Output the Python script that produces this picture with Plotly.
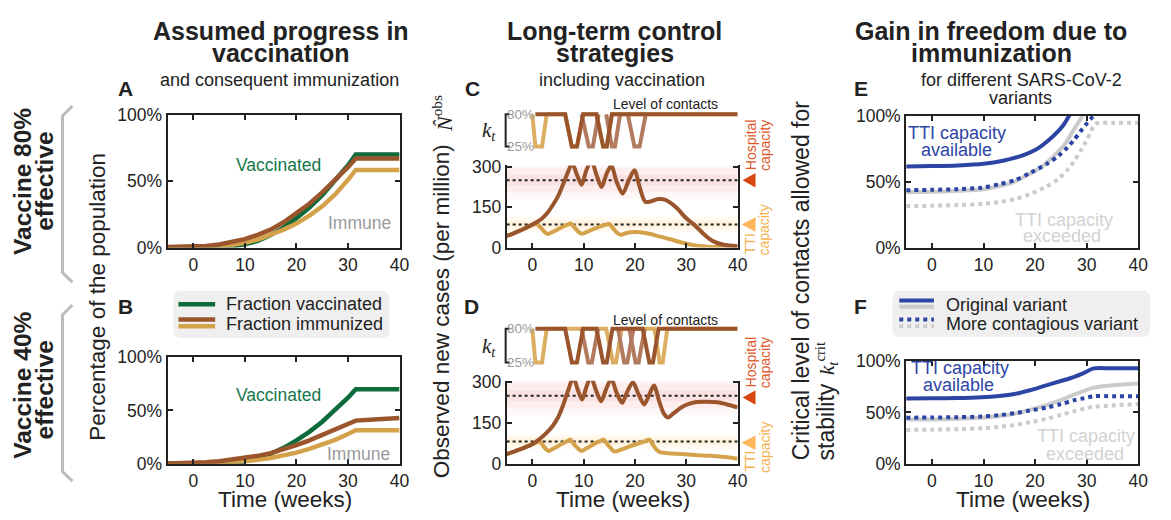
import plotly.graph_objects as go

W, H = 1171, 520
SANS = "Liberation Sans, Arial, Helvetica, sans-serif"
SERIF = "Liberation Serif, DejaVu Serif, serif"

# ---------------- data ----------------
weeks_AB = [-5, 0, 2.5, 5, 7.5, 10, 12.5, 15, 17.5, 20, 22.5, 25, 27.5, 30, 31.5, 35, 40]
vaccinated = [0, 0, 0, 0.1, 0.8, 2.4, 5, 9.5, 15, 22, 30, 39.5, 50.5, 62, 70, 70, 70]
A_immunized = [0.3, 0.5, 1.2, 2.3, 4, 6.3, 9.5, 13.5, 19, 25.5, 33, 41.5, 50.5, 60.5, 67, 67, 67]
A_immune = [0, 0.2, 0.5, 1, 2, 3.5, 6, 9.5, 13.5, 18, 24, 31, 40, 51, 58.5, 58.5, 58.5]
B_immunized = [0.3, 0.8, 1.5, 2.5, 4, 5.5, 7.5, 10, 13.5, 17.5, 22, 27, 32, 37.5, 40.5, 41.5, 43]
B_immune = [0, 0.2, 0.5, 1, 1.6, 2.5, 3.8, 5.5, 7.8, 10.5, 14, 18, 22.5, 28, 31.5, 31.5, 31.5]

C_w = [-5, -4, -3, -2, -1, 0, 1, 2, 3, 4, 5, 6, 7, 7.8, 8.7, 9.6, 10.5, 11.5, 12.5, 13.5, 14.5, 15.4,
       16.4, 17.6, 18.8, 19.9, 20.9, 22.0, 23.2, 24.5, 25.8, 27, 28.3, 29.5, 30.5, 31.5, 32.5, 33.5,
       34.5, 35.5, 36.7, 38, 40]
C_hosp_cases = [43, 50, 58, 66, 75, 85, 96, 110, 130, 158, 190, 235, 283, 312, 270, 233, 285, 322, 270,
                225, 275, 305, 245, 200, 250, 287, 225, 170, 172, 180, 178, 165, 144, 118, 100, 85, 67,
                48, 32, 21, 13, 8, 5]
C_tw = [-5, -4, -3, -2, -1, 0, 0.8, 1.6, 2.4, 3.0, 4, 5, 6, 7, 7.5, 8.2, 9, 9.7, 10.5, 11.5, 12.5, 13.5,
        14.5, 15, 15.7, 16.5, 17.2, 18, 19, 20, 21, 22, 23, 24, 25, 26, 27, 28, 29, 30, 31, 32, 33, 34,
        36, 40]
C_tti_cases = [43, 50, 58, 66, 75, 83, 88, 75, 58, 50, 58, 68, 78, 86, 89, 75, 58, 51, 57, 65, 73, 80,
               86, 87, 72, 55, 47, 52, 57, 58, 57, 54, 50, 45, 40, 35, 30, 24, 19, 14, 10, 7, 5, 3, 2, 1]

D_w = [-5, -4, -3, -2, -1, 0, 1, 2, 3, 4, 5, 6, 7, 8, 8.8, 9.7, 10.5, 11.4, 12.4, 13.4, 14.4, 15.4,
       16.4, 17.5, 18.5, 19.6, 20.7, 21.8, 22.8, 23.7, 24.7, 25.6, 26.4, 27.5, 29, 30.5, 32, 34, 36, 38, 40]
D_hosp_cases = [36, 42, 49, 56, 64, 72, 85, 100, 118, 140, 170, 215, 270, 318, 275, 236, 280, 320, 270,
                230, 275, 312, 262, 224, 265, 300, 255, 218, 255, 288, 230, 185, 170, 185, 207, 220, 227,
                228, 226, 218, 207]
D_tw = [-5, -4, -3, -2, -1, 0, 1, 1.5, 2.3, 3.2, 4, 5, 6, 7, 7.4, 8.2, 9, 9.6, 10.5, 11.5, 12.5, 13.5,
        13.9, 14.7, 15.4, 16, 17, 18, 19, 20, 21, 22, 22.8, 23.5, 24.3, 25, 26, 28, 30, 32, 34, 36, 38, 40]
D_tti_cases = [36, 42, 49, 56, 64, 72, 80, 82, 62, 47, 55, 65, 76, 85, 89, 70, 55, 47, 56, 67, 78, 86,
               89, 70, 55, 45, 50, 57, 64, 71, 77, 83, 89, 70, 50, 42, 40, 37, 35, 32, 30, 28, 24, 19]

C_hosp_capacity, C_tti_capacity = 250, 85
D_hosp_capacity, D_tti_capacity = 250, 82

# level of contacts k_t (%)
C_kt_tti_w = [0.0, 0.6, 1.9, 2.8, 6.4, 7.7, 8.7, 9.9, 12.5, 13.8, 14.5, 15.5, 40]
C_kt_tti = [80, 25, 25, 80, 80, 25, 25, 80, 80, 25, 25, 80, 80]
C_kt_hosp_w = [0.6, 6.4, 7.7, 8.7, 9.9, 12.5, 13.8, 14.5, 15.5, 40]
C_kt_hosp = [80, 80, 25, 25, 80, 80, 25, 25, 80, 80]
C_kt_hosp2_w = [9.6, 11.0, 11.8, 12.9, None, 14.4, 15.5, 16.1, 17.1, None, 18.6, 19.9, 20.9, 22.1]
C_kt_hosp2 = [80, 25, 25, 80, None, 80, 25, 25, 80, None, 80, 25, 25, 80]

D_kt_tti_w = [0.0, 0.6, 1.9, 2.8, 14.4, 15.7, 16.3, 17.4, 23.8, 24.8, 25.4, 26.3, 40]
D_kt_tti = [80, 25, 25, 80, 80, 25, 25, 80, 80, 25, 25, 80, 80]
D_kt_hosp_w = [0.6, 6.4, 7.7, 8.7, 9.9, 12.5, 13.8, 14.5, 15.6, 21.5, 22.8, 23.5, 24.6, 40]
D_kt_hosp = [80, 80, 25, 25, 80, 80, 25, 25, 80, 80, 25, 25, 80, 80]
D_kt_hosp2_w = [9.6, 10.9, 11.6, 12.8, None, 16.7, 17.9, 18.5, 19.7, None, 18.9, 20.1, 20.7, 21.9]
D_kt_hosp2 = [80, 25, 25, 80, None, 80, 25, 25, 80, None, 80, 25, 25, 80]

# critical level of contacts (%)
E_orig_avail_w = [-5, 0, 5, 10, 14, 16, 18, 20, 21.2, 22.5, 24.4, 25.5, 26.6, 27.5]
E_orig_avail = [61.5, 61.8, 62.3, 63.5, 66, 68, 70.5, 74, 77, 81, 88, 93, 100, 106]
E_orig_exc_w = [-5, 0, 5, 9.6, 13, 16, 18.5, 21.2, 23.5, 25.7, 27.6, 29.2, 30]
E_orig_exc = [42, 42.3, 43, 44, 46.5, 50, 55, 61, 69, 78, 90, 100, 106]
E_cont_avail_w = [-5, 0, 5, 9.6, 13, 16, 19, 22.3, 24.5, 26.2, 27.5, 28.8, 29.8, 30.8, 31.8]
E_cont_avail = [43.5, 43.8, 44.3, 45.4, 48, 51, 56.5, 63.5, 69.5, 75.6, 81.5, 88, 93, 97.5, 103]
E_cont_exc_w = [-5, 0, 5, 9.6, 13, 16, 19, 22.3, 24.5, 26.2, 27.5, 28.8, 29.8, 30.8, 31.5, 32, 35, 40]
E_cont_exc = [31.4, 31.7, 32.2, 33, 34.5, 36.7, 40.5, 46.5, 52, 58.6, 65, 73.2, 80, 87.8, 93, 94.3, 94.6, 94.6]

F_w = [-5, 0, 5, 9.6, 13, 16, 19, 22.3, 25, 27.5, 29.5, 31.4, 35, 40]
F_orig_avail = [63.6, 63.7, 64, 64.8, 66, 67.9, 71.5, 76.6, 80.5, 84.4, 88.5, 92.8, 92.8, 92.8]
F_orig_exc = [43, 43.2, 43.8, 44.9, 46.5, 48.6, 52.5, 57.3, 62, 67.3, 71, 74.1, 76.5, 78.2]
F_cont_avail = [44.9, 45, 45.4, 46, 47.3, 49.2, 51.8, 54.8, 58, 61.7, 63.8, 65.7, 65.7, 65.7]
F_cont_exc = [33, 33.2, 33.7, 34.6, 36, 37.7, 40.5, 43.9, 47.5, 51.1, 53.5, 55.5, 56.8, 57.9]

x_ticks = [0, 10, 20, 30, 40]
pct_ticks = [0, 50, 100]
pct_labels = ["0%", "50%", "100%"]
case_ticks = [0, 150, 300]

# ---------------- colours ----------------
GREEN = "#0d6b3c"
BROWN = "#9a552d"
TAN = "#d5a24c"
MAUVE = "#b27b60"
BLUE = "#2c45a5"
GREY = "#cbcbcb"
AX = "#222222"


def dx(a, b):
    return [a / W, b / W]


def dy(top, bottom):
    return [1 - bottom / H, 1 - top / H]


fig = go.Figure()


def line(x, y, ax, color, width=4.5, dash="solid", shape="linear", opacity=1.0):
    fig.add_trace(go.Scatter(x=x, y=y, mode="lines", xaxis="x" + ax, yaxis="y" + ax,
                             line=dict(color=color, width=width, dash=dash, shape=shape,
                                       smoothing=0.8),
                             opacity=opacity, showlegend=False, hoverinfo="skip",
                             connectgaps=False))


# A / B
for ax, immun, immune in [("", A_immunized, A_immune), ("2", B_immunized, B_immune)]:
    line(weeks_AB, vaccinated, ax, GREEN)
    line(weeks_AB, immune, ax, TAN)
    line(weeks_AB, immun, ax, BROWN)

# C / D main + strips
for ax, sax, bw, bv, tw, tv, hc, tc, k1w, k1, k2w, k2, k3w, k3 in [
        ("3", "4", C_w, C_hosp_cases, C_tw, C_tti_cases, C_hosp_capacity, C_tti_capacity,
         C_kt_tti_w, C_kt_tti, C_kt_hosp2_w, C_kt_hosp2, C_kt_hosp_w, C_kt_hosp),
        ("5", "6", D_w, D_hosp_cases, D_tw, D_tti_cases, D_hosp_capacity, D_tti_capacity,
         D_kt_tti_w, D_kt_tti, D_kt_hosp2_w, D_kt_hosp2, D_kt_hosp_w, D_kt_hosp)]:
    line([-5, 40], [hc, hc], ax, AX, width=2, dash="dot")
    line([-5, 40], [tc, tc], ax, AX, width=2, dash="dot")
    line(tw, tv, ax, TAN, width=4, shape="spline")
    line(bw, bv, ax, BROWN, width=4, shape="spline")
    line(k1w, k1, sax, "#dcae62", width=4)
    line(k2w, k2, sax, MAUVE, width=4)
    line(k3w, k3, sax, BROWN, width=4)

# E / F
line(E_cont_exc_w, E_cont_exc, "7", GREY, width=4, dash="dot", shape="spline")
line(E_orig_exc_w, E_orig_exc, "7", GREY, width=4, shape="spline")
line(E_cont_avail_w, E_cont_avail, "7", BLUE, width=4, dash="dot", shape="spline")
line(E_orig_avail_w, E_orig_avail, "7", BLUE, width=4, shape="spline")
line(F_w, F_cont_exc, "8", GREY, width=4, dash="dot", shape="spline")
line(F_w, F_orig_exc, "8", GREY, width=4, shape="spline")
line(F_w, F_cont_avail, "8", BLUE, width=4, dash="dot", shape="spline")
line(F_w, F_orig_avail, "8", BLUE, width=4, shape="spline")

# ---------------- axes ----------------
tickfont = dict(size=17.5, color=AX, family=SANS)
box = dict(showline=True, linecolor=AX, linewidth=2, mirror="ticks", ticks="inside", ticklen=5,
           tickwidth=1.5, tickcolor=AX, showgrid=False, zeroline=False, tickfont=tickfont,
           fixedrange=True)
lay = {}


def xa(name, anchor, dom, **kw):
    d = dict(box)
    d.update(domain=dx(*dom), anchor=anchor, range=[-5, 40], tickvals=x_ticks)
    d.update(kw)
    lay[name] = d


def ya(name, anchor, dom, rng, **kw):
    d = dict(box)
    d.update(domain=dy(*dom), anchor=anchor, range=rng)
    d.update(kw)
    lay[name] = d


xa("xaxis", "y", (169, 403))
ya("yaxis", "x", (109, 247), [0, 100], tickvals=pct_ticks, ticktext=pct_labels)
xa("xaxis2", "y2", (169, 403))
ya("yaxis2", "x2", (361, 472), [0, 100], tickvals=pct_ticks, ticktext=pct_labels)

xa("xaxis3", "y3", (511, 744), mirror=False)
ya("yaxis3", "x3", (161.6, 247), [0, 305], tickvals=case_ticks)
xa("xaxis5", "y5", (511, 744), mirror=False)
ya("yaxis5", "x5", (385.6, 472), [0, 305], tickvals=case_ticks)

strip = dict(visible=False, fixedrange=True)
lay["xaxis4"] = dict(strip, domain=dx(511, 744), anchor="y4", range=[-5, 40])
lay["yaxis4"] = dict(strip, domain=dy(105.15, 145.35), anchor="x4", range=[19.5, 85.5])
lay["xaxis6"] = dict(strip, domain=dx(511, 744), anchor="y6", range=[-5, 40])
lay["yaxis6"] = dict(strip, domain=dy(328.0, 370.0), anchor="x6", range=[19.5, 85.5])

xa("xaxis7", "y7", (914, 1148))
ya("yaxis7", "x7", (110, 247), [0, 100], tickvals=pct_ticks, ticktext=pct_labels)
xa("xaxis8", "y8", (914, 1148))
ya("yaxis8", "x8", (365, 472), [0, 100], tickvals=pct_ticks, ticktext=pct_labels)

# ---------------- annotations ----------------
anns = []


def ann(text, x, y, size=17.5, color=AX, bold=False, angle=0, family=SANS, xanchor="center"):
    if bold:
        text = "<b>" + text + "</b>"
    anns.append(dict(text=text, x=x / W, y=1 - y / H, xref="paper", yref="paper", showarrow=False,
                     font=dict(size=size, color=color, family=family), textangle=angle,
                     xanchor=xanchor, yanchor="middle"))


# column titles
TS = 25
ann("Assumed progress in", 283, 22, TS, bold=True)
ann("vaccination", 283, 45, TS, bold=True)
ann("and consequent immunization", 282, 73, 18)
ann("Long-term control", 620, 22, TS, bold=True)
ann("strategies", 620, 45, TS, bold=True)
ann("including vaccination", 627, 73, 18)
ann("Gain in freedom due to", 1000, 22, TS, bold=True)
ann("immunization", 1000, 45, TS, bold=True)
ann("for different SARS-CoV-2", 1030, 73, 18)
ann("variants", 1029, 91, 18)

# panel letters
for t, x, y in [("A", 127, 82), ("B", 127, 308), ("C", 477, 82), ("D", 476, 308),
                ("E", 868, 82), ("F", 868, 308)]:
    ann(t, x, y, 21, bold=True)

# row labels
ann("Vaccine 80%", 22, 178, 24.5, bold=True, angle=-90)
ann("effective", 45, 178, 24.5, bold=True, angle=-90)
ann("Vaccine 40%", 22, 390, 24.5, bold=True, angle=-90)
ann("effective", 45, 395, 24.5, bold=True, angle=-90)

# axis titles
ann("Percentage of the population", 98, 298, 22.5, angle=-90)
ann("Observed new cases (per million)", 446, 313, 22.5, angle=-90)
ann("<i>N̂</i><sup>obs</sup>", 446, 108, 22, angle=-90, family=SERIF)
ann("Critical level of contacts allowed for", 808, 281, 23, angle=-90)
ann("stability", 833, 428, 23, angle=-90)
ann("<i>k</i><sub><i>t</i></sub><sup>crit</sup>", 833, 362, 21, angle=-90, family=SERIF)
for x in (287, 628, 1032):
    ann("Time (weeks)", x, 509, 22.5)

# in-panel labels A/B
ann("Vaccinated", 281, 161, 17.5, color="#16774a")
ann("Immune", 363, 222, 17.5, color="#9a9a9a")
ann("Vaccinated", 281, 400, 17.5, color="#16774a")
ann("Immune", 362, 462, 17.5, color="#9a9a9a")

# legend A/B
ann("Fraction vaccinated", 226, 306, 18, xanchor="left")
ann("Fraction immunized", 226, 327, 18, xanchor="left")
# legend E/F
ann("Original variant", 952, 306.5, 18, xanchor="left")
ann("More contagious variant", 952, 326.5, 18, xanchor="left")

# strips
for off in (0, 224):
    ann("Level of contacts", 671, 98 + off, 14)
    ann("<i>k<sub>t</sub></i>", 493, 126 + off, 21, family=SERIF)
ann("80%", 525, 108.5, 13.5, color="#9a9a9a")
ann("25%", 525, 142, 13.5, color="#9a9a9a")
ann("80%", 525, 331.5, 13.5, color="#9a9a9a")
ann("25%", 525, 366.5, 13.5, color="#9a9a9a")

# capacity labels
HOSP_T = "#e0562a"
TTI_T = "#f6b04f"
for off in (0, 226):
    ann("Hospital", 757, 140 + off, 14, color=HOSP_T, angle=-90)
    ann("capacity", 771, 141 + off, 14, color=HOSP_T, angle=-90)
    ann("TTI", 756, 243 + off, 14, color=TTI_T, angle=-90)
    ann("capacity", 771, 229 + off, 14, color=TTI_T, angle=-90)

# E/F text
ann("TTI capacity", 965, 128, 18, color=BLUE)
ann("available", 965, 146, 18, color=BLUE)
ann("TTI capacity", 1073, 218, 18, color="#d2d2d2")
ann("exceeded", 1071, 235, 18, color="#d2d2d2")
ann("TTI capacity", 968, 372, 18, color=BLUE)
ann("available", 967, 390, 18, color=BLUE)
ann("TTI capacity", 1095, 443, 18, color="#d2d2d2")
ann("exceeded", 1094, 462, 18, color="#d2d2d2")

# ---------------- shapes ----------------
shapes = []


def P(x, y):
    return f"{x / W:.5f},{1 - y / H:.5f}"


def pshape(pts, color=None, fill=None, width=0, closed=False, dash="solid"):
    path = "M " + " L ".join(P(x, y) for x, y in pts) + (" Z" if closed else "")
    d = dict(type="path", xref="paper", yref="paper", path=path, layer="above",
             line=dict(color=color or "rgba(0,0,0,0)", width=width, dash=dash))
    if fill:
        d["fillcolor"] = fill
    shapes.append(d)


def rrect(x0, y0, x1, y1, r, fill):
    rx, ry = r / W, r / H
    X0, X1, Yt, Yb = x0 / W, x1 / W, 1 - y0 / H, 1 - y1 / H
    path = (f"M {X0 + rx},{Yt} L {X1 - rx},{Yt} Q {X1},{Yt} {X1},{Yt - ry} L {X1},{Yb + ry} "
            f"Q {X1},{Yb} {X1 - rx},{Yb} L {X0 + rx},{Yb} Q {X0},{Yb} {X0},{Yb + ry} "
            f"L {X0},{Yt - ry} Q {X0},{Yt} {X0 + rx},{Yt} Z")
    shapes.append(dict(type="path", xref="paper", yref="paper", path=path, fillcolor=fill,
                       line=dict(width=0), layer="below"))


def pl(x0, y0, x1, y1, color, width, dash="solid"):
    shapes.append(dict(type="line", xref="paper", yref="paper", x0=x0 / W, y0=1 - y0 / H,
                       x1=x1 / W, y1=1 - y1 / H, line=dict(color=color, width=width, dash=dash),
                       layer="above"))


# brackets
pshape([(73, 100), (63, 110), (63, 273), (73, 283)], color="#bdbdbd", width=3)
pshape([(73, 307), (63, 317), (63, 480), (73, 490)], color="#bdbdbd", width=3)

# k_t brackets
for top, bot in ((108.5, 142), (331.5, 366.5)):
    pshape([(514, top), (510, top), (510, bot), (514, bot)], color=AX, width=2)

# legends
rrect(175, 292, 393, 341, 8, "#efefef")
pl(180, 306, 217, 306, GREEN, 4.5)
pl(180, 322, 217, 322, BROWN, 4.5)
pl(180, 329, 217, 329, TAN, 4.5)
rrect(900, 292, 1160, 340, 8, "#efefef")
pl(907, 302, 942, 302, BLUE, 4)
pl(907, 308.5, 942, 308.5, GREY, 4)
pl(907, 322, 942, 322, BLUE, 4, "dot")
pl(907, 329, 942, 329, GREY, 4, "dot")

# capacity triangles
for y in (177, 403):
    pshape([(749, y), (762, y - 7.5), (762, y + 7.5)], fill="#d9460f", closed=True)
for y in (223, 450):
    pshape([(748, y), (762, y - 7.5), (762, y + 7.5)], fill="#fdb65c", closed=True)

# capacity bands
for ax, hc, tc in (("3", C_hosp_capacity, C_tti_capacity), ("5", D_hosp_capacity, D_tti_capacity)):
    for half, op in ((70, 0.06), (45, 0.07), (20, 0.09)):
        shapes.append(dict(type="rect", xref="x" + ax, yref="y" + ax, x0=-5, x1=40,
                           y0=hc - half, y1=hc + half, fillcolor=f"rgba(235,120,120,{op})",
                           line=dict(width=0), layer="below"))
    for half, op in ((28, 0.07), (16, 0.08), (8, 0.1)):
        shapes.append(dict(type="rect", xref="x" + ax, yref="y" + ax, x0=-5, x1=40,
                           y0=tc - half, y1=tc + half, fillcolor=f"rgba(250,195,90,{op})",
                           line=dict(width=0), layer="below"))

fig.update_layout(width=W, height=H, margin=dict(l=0, r=0, t=0, b=0), paper_bgcolor="white",
                  plot_bgcolor="rgba(0,0,0,0)", showlegend=False, annotations=anns, shapes=shapes,
                  font=dict(family=SANS, color=AX), **lay)

fig.write_html("out.html")
